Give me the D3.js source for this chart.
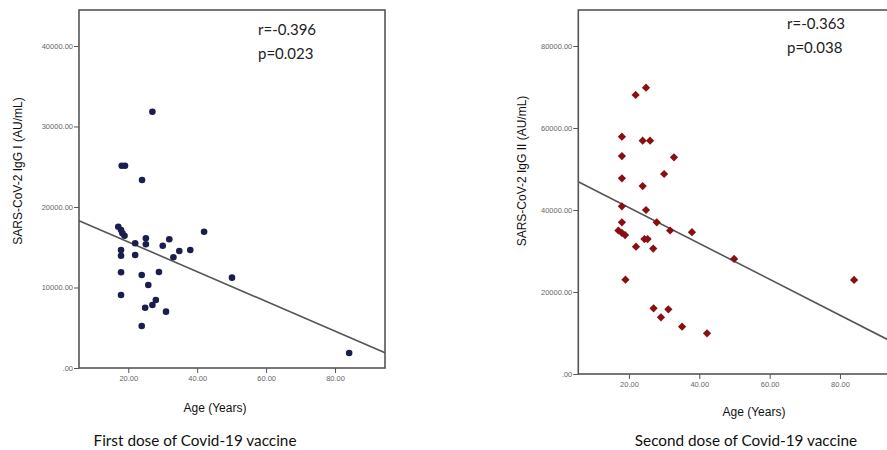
<!DOCTYPE html>
<html>
<head>
<title>IgG vs Age</title>
<meta charset="utf-8">
<style type="text/css">
body { margin: 0; background: #fff; }
svg text { font-family: "Liberation Sans", Arial, sans-serif; }
.stat { font-family: Lato, "Open Sans", sans-serif; font-size: 15px; fill: #222; }
.caption { font-family: Lato, "Open Sans", sans-serif; font-size: 15.3px; fill: #111; }
.axis-title { font-size: 12px; fill: #111; }
.tick text { font-size: 7.5px; fill: #666; }
.tick line { stroke: #555; }
.domain { display: none; }
</style>
</head>
<body>
<svg id="chart" width="887" height="450"></svg>

<script src="https://d3js.org/d3.v7.min.js"></script>
<script type="text/javascript">
// data
const firstAge = [27, 18.1, 19.05, 24, 17.1, 17.9, 18.3, 18.9, 22, 25.1, 25.1, 30, 31.9, 34.8, 38,
                  33.1, 17.9, 17.9, 22, 42, 17.9, 23.9, 28.9, 25.8, 17.9, 28, 27, 24.9, 30.95, 23.9, 50.1, 84.1];
const firstIgG = [31840, 25130, 25130, 23350, 17550, 17140, 16730, 16430, 15490, 16110, 15370, 15190, 15990, 14530, 14660,
                  13750, 14660, 13950, 14040, 16930, 11890, 11550, 11930, 10310, 9070, 8450, 7830, 7490, 7000, 5220, 11220, 1860];
const firstFit = [[5.7, 18300], [94.5, 1900]];

const secondAge = [21.9, 24.85, 18, 23.9, 26, 18, 32.8, 18, 30, 23.9, 18, 24.85, 27.9, 31.7, 37.9, 18,
                   17, 18, 18.9, 24.4, 25.3, 22, 26.9, 49.9, 19, 84, 27, 31.2, 29.1, 35.1, 42.2];
const secondIgG = [68050, 69830, 57880, 56900, 56900, 53170, 52850, 47730, 48780, 45850, 40900, 40000, 37000, 35000, 34600, 37000,
                   35000, 34400, 33900, 32900, 32900, 31050, 30600, 28050, 23000, 22930, 16020, 15780, 13830, 11540, 9920];
const secondFit = [[5.6, 46900], [94.5, 7980]];

const xTicks = [20, 40, 60, 80];
const firstYTicks = [0, 10000, 20000, 30000, 40000];
const secondYTicks = [0, 20000, 40000, 60000, 80000];

const svg = d3.select("#chart");
const fmt = v => v === 0 ? ".00" : d3.format(".2f")(v);

function drawPanel(p) {
    const x = d3.scaleLinear().domain(p.xDomain).range([p.left, p.right]);
    const y = d3.scaleLinear().domain(p.yDomain).range([p.bottom, p.top]);
    const g = svg.append("g");

    // plot frame
    g.append("rect")
        .attr("x", p.left).attr("y", p.top)
        .attr("width", p.right - p.left).attr("height", p.bottom - p.top)
        .attr("fill", "none").attr("stroke", "#555").attr("stroke-width", 1.6);

    g.append("g")
        .attr("transform", `translate(0,${p.bottom})`)
        .call(d3.axisBottom(x).tickValues(xTicks).tickFormat(fmt).tickSize(5).tickPadding(3));
    g.append("g")
        .attr("transform", `translate(${p.left},0)`)
        .call(d3.axisLeft(y).tickValues(p.yTicks).tickFormat(fmt).tickSize(5).tickPadding(1));

    // fit line
    g.append("path").datum(p.fit)
        .attr("fill", "none").attr("stroke", "#555").attr("stroke-width", 1.6)
        .attr("d", d3.line().x(d => x(d[0])).y(d => y(d[1])));

    const pts = p.ages.map((a, i) => [a, p.values[i]]);
    if (p.shape === "circle") {
        g.selectAll("circle.pt").data(pts).join("circle")
            .attr("class", "pt")
            .attr("cx", d => x(d[0])).attr("cy", d => y(d[1]))
            .attr("r", 3.3).attr("fill", p.color);
    } else {
        const sym = d3.symbol().type(d3.symbolSquare).size(34);
        g.selectAll("path.pt").data(pts).join("path")
            .attr("class", "pt")
            .attr("transform", d => `translate(${x(d[0])},${y(d[1])}) rotate(45)`)
            .attr("d", sym).attr("fill", p.color);
    }

    g.append("text").attr("class", "stat").attr("x", p.statX).attr("y", p.statY).text(p.r);
    g.append("text").attr("class", "stat").attr("x", p.statX).attr("y", p.statY + 24).text(p.p);

    g.append("text").attr("class", "axis-title")
        .attr("text-anchor", "middle")
        .attr("x", p.xTitleX).attr("y", p.xTitleY).text("Age (Years)");
    g.append("text").attr("class", "axis-title")
        .attr("text-anchor", "middle")
        .attr("transform", `translate(${p.yTitleX},171) rotate(-90)`)
        .text(p.yTitle);
    g.append("text").attr("class", "caption")
        .attr("text-anchor", "middle")
        .attr("x", p.capX).attr("y", 446).text(p.caption);
}

drawPanel({
    left: 79, right: 385, top: 10, bottom: 368,
    xDomain: [5.7, 94.5], yDomain: [0, 44470], yTicks: firstYTicks,
    ages: firstAge, values: firstIgG, fit: firstFit,
    shape: "circle", color: "#1b1d4e",
    r: "r=-0.396", p: "p=0.023", statX: 258, statY: 35,
    xTitleX: 215, xTitleY: 412, yTitleX: 22, yTitle: "SARS-CoV-2 IgG I (AU/mL)",
    capX: 195, caption: "First dose of Covid-19 vaccine"
});

drawPanel({
    left: 578.3, right: 891, top: 10, bottom: 374,
    xDomain: [5.6, 94.5], yDomain: [0, 88780], yTicks: secondYTicks,
    ages: secondAge, values: secondIgG, fit: secondFit,
    shape: "diamond", color: "#8a0f12",
    r: "r=-0.363", p: "p=0.038", statX: 787, statY: 29,
    xTitleX: 754, xTitleY: 416, yTitleX: 526, yTitle: "SARS-CoV-2 IgG II (AU/mL)",
    capX: 746, caption: "Second dose of Covid-19 vaccine"
});
</script>
</body>
</html>
